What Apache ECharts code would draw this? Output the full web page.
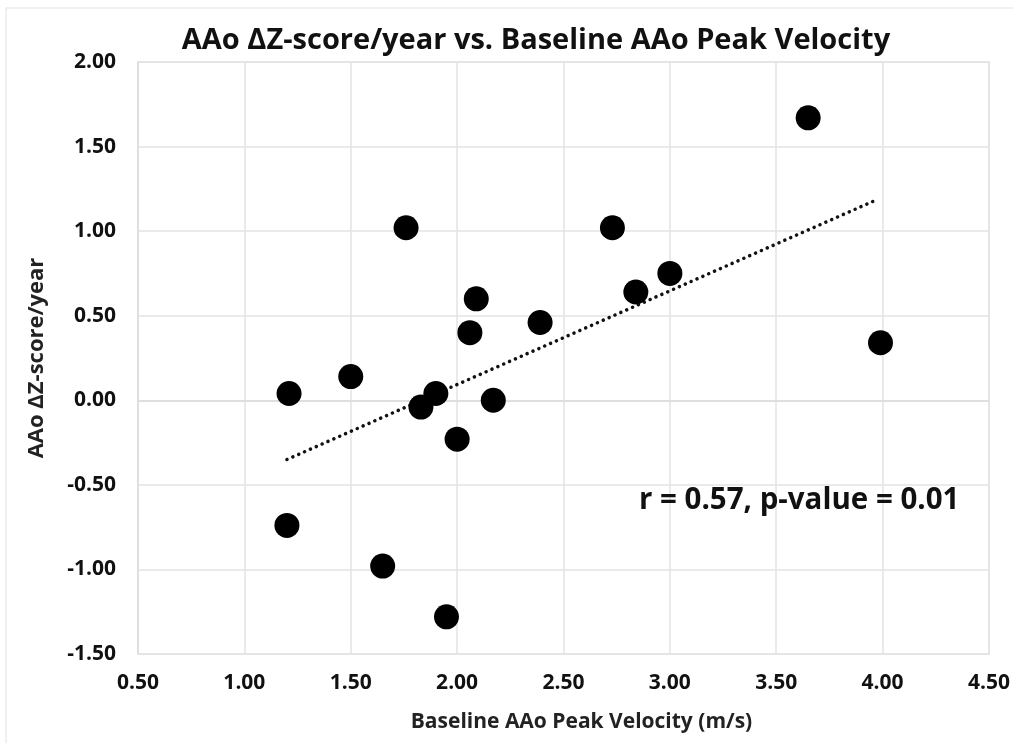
<!DOCTYPE html>
<html>
<head>
<meta charset="utf-8">
<script src="https://cdn.jsdelivr.net/npm/echarts@6/dist/echarts.min.js"></script>
<style>html,body{margin:0;padding:0;background:#fff;}#c{width:1013px;height:743px;}</style>
</head>
<body>
<div id="c"></div>
<script>
// Baseline AAo peak velocity (m/s)
const velocity = [3.65, 1.76, 2.73, 3.00, 2.84, 2.09, 2.39, 2.06, 3.99, 1.50, 1.21, 1.90, 1.83, 2.17, 2.00, 1.20, 1.65, 1.95];
// AAo ΔZ-score/year
const dzScore = [1.67, 1.02, 1.02, 0.75, 0.64, 0.60, 0.46, 0.40, 0.34, 0.14, 0.04, 0.04, -0.04, 0.00, -0.23, -0.74, -0.98, -1.28];
// Trend line end points
const trendX = [1.20, 3.98];
const trendY = [-0.35, 1.19];
const titleText = 'AAo ΔZ-score/year vs. Baseline AAo Peak Velocity';
const xAxisName = 'Baseline AAo Peak Velocity (m/s)';
const yAxisName = 'AAo ΔZ-score/year';
const statsText = 'r = 0.57, p-value = 0.01';

const FONT = 'Open Sans';
const chart = echarts.init(document.getElementById('c'), null, {renderer: 'canvas'});
chart.setOption({
  backgroundColor: '#fff',
  animation: false,
  title: {
    text: titleText, left: 531, top: 21, textAlign: 'center',
    textStyle: {fontFamily: FONT, fontWeight: 'bold', fontSize: 29, color: '#111'}
  },
  grid: {left: 138, right: 24, top: 62, bottom: 89, containLabel: false},
  xAxis: {
    type: 'value', min: 0.5, max: 4.5, interval: 0.5,
    name: xAxisName, nameLocation: 'middle', nameGap: 58,
    nameTextStyle: {fontFamily: FONT, fontWeight: 'bold', fontSize: 21, color: '#222', padding: [0, 0, 0, 36]},
    axisLine: {show: true, lineStyle: {color: '#dcdcdc', width: 1.5}},
    axisTick: {show: false},
    axisLabel: {fontFamily: FONT, fontWeight: 'bold', fontSize: 21, color: '#111', margin: 19,
      formatter: v => v.toFixed(2)},
    splitLine: {show: true, lineStyle: {color: '#e3e3e3', width: 1.5}}
  },
  yAxis: {
    type: 'value', min: -1.5, max: 2.0, interval: 0.5,
    name: yAxisName, nameLocation: 'middle', nameGap: 90, nameRotate: 90,
    nameTextStyle: {fontFamily: FONT, fontWeight: 'bold', fontSize: 22, color: '#222'},
    axisLine: {show: true, lineStyle: {color: '#dcdcdc', width: 1.5}},
    axisTick: {show: false},
    axisLabel: {fontFamily: FONT, fontWeight: 'bold', fontSize: 21, color: '#111', margin: 22,
      formatter: v => v.toFixed(2)},
    splitLine: {show: true, lineStyle: {color: '#e3e3e3', width: 1.5}}
  },
  graphic: [
    {type: 'rect', shape: {x: 138, y: 62, width: 851, height: 592}, silent: true, z: 0,
      style: {fill: 'none', stroke: '#e3e3e3', lineWidth: 1.5}},
    {type: 'rect', shape: {x: 6, y: 8, width: 1020, height: 760}, silent: true, z: 0,
      style: {fill: 'none', stroke: '#ececec', lineWidth: 1.5}},
    {type: 'text', left: 639, top: 486, z: 10,
      style: {text: statsText, fontFamily: FONT, fontWeight: 'bold', fontSize: 29.5, fill: '#111'}}
  ],
  series: [
    {
      type: 'line', data: trendX.map((x, i) => [x, trendY[i]]),
      symbol: 'none', z: 3,
      lineStyle: {color: '#111', width: 3.5, type: [0.1, 6.3], cap: 'round'}
    },
    {
      type: 'scatter', data: velocity.map((x, i) => [x, dzScore[i]]),
      symbol: 'circle', symbolSize: 25, z: 4,
      itemStyle: {color: '#000', opacity: 1}
    }
  ]
});
</script>
</body>
</html>
